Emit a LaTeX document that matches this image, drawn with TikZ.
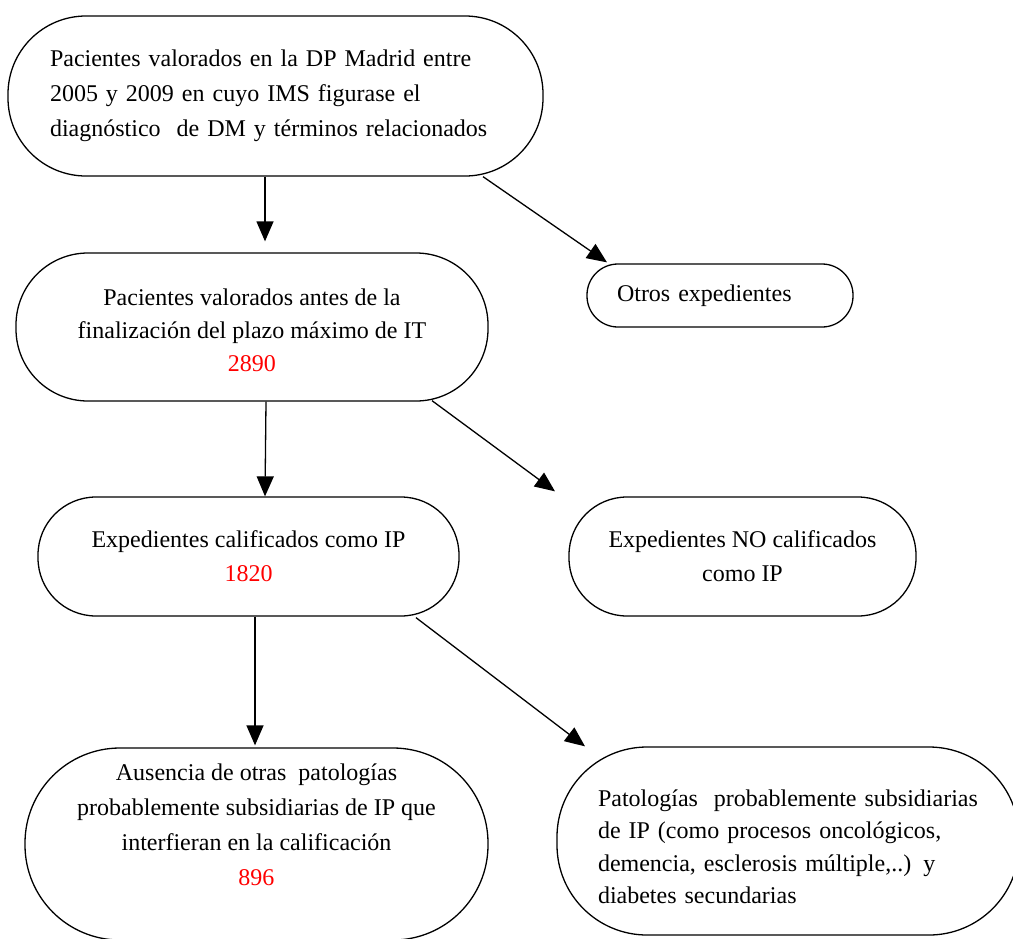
\documentclass[tikz,border=0pt]{standalone}
\usepackage{fontspec}
\setmainfont{Liberation Serif}
\usetikzlibrary{arrows.meta,calc}
\begin{document}
\begin{tikzpicture}[x=1pt,y=-1pt,
  box/.style={draw,line width=1.3pt,inner sep=0pt,font=\fontsize{24}{34}\selectfont},
  arr/.style={line width=1.3pt,-{Triangle[length=20pt,width=17pt]}}]
\useasboundingbox (0,0) rectangle (1013,938);
\clip (0,0) rectangle (1013,938);

\node[box,minimum width=535pt,minimum height=160pt,rounded corners=78pt,
      text width=451pt,align=left,font=\fontsize{24}{35}\selectfont] (n1) at (275.5,96)
  {Pacientes valorados en la DP Madrid entre\\2005 y 2009 en cuyo IMS figurase el\\diagnóstico\ \ de DM y términos relacionados};

\node[box,minimum width=472pt,minimum height=148pt,rounded corners=72pt,align=center,
      font=\fontsize{24}{33}\selectfont] (n2) at (252,327)
  {\rule{0pt}{24pt}Pacientes valorados antes de la\\finalización del plazo máximo de IT\\\textcolor{red}{2890}};

\node[box,minimum width=266pt,minimum height=63pt,rounded corners=31pt,
      text width=206pt,align=left] (otros) at (720,295.5)
  {Otros expedientes};

\node[box,minimum width=421pt,minimum height=119pt,rounded corners=58pt,align=center] (n3) at (248.5,556.5)
  {Expedientes calificados como IP\\\textcolor{red}{1820}};

\node[box,minimum width=347pt,minimum height=119pt,rounded corners=58pt,align=center] (no) at (742.5,556.5)
  {Expedientes NO calificados\\como IP};

\node[box,minimum width=463pt,minimum height=192pt,rounded corners=95pt,align=center,
      font=\fontsize{24}{35}\selectfont] (n4) at (256.5,844)
  {Ausencia de otras\ \ patologías\\probablemente subsidiarias de IP que\\interfieran en la calificación\\\textcolor{red}{896}\rule[-38pt]{0pt}{38pt}};

\node[box,minimum width=462pt,minimum height=188pt,rounded corners=90pt,
      text width=380pt,align=left,font=\fontsize{24}{32.5}\selectfont] (n5) at (788,841)
  {\rule{0pt}{28pt}Patologías\ \ probablemente subsidiarias\\de IP (como procesos oncológicos,\\demencia, esclerosis múltiple,..) y\\diabetes secundarias};

\draw[arr,shorten >=11pt] ([xshift=-10.5pt]n1.south) -- ([xshift=13pt]n2.north);
\draw[arr] ([xshift=207.5pt]n1.south) -- ([xshift=-113pt,yshift=1pt]otros.north);
\draw[arr] ([xshift=14pt]n2.south) -- ([xshift=16.5pt]n3.north);
\draw[arr] ([xshift=180pt,yshift=1pt]n2.south) -- ([xshift=-187.5pt,yshift=5pt]no.north);
\draw[arr,shorten >=2pt] ([xshift=6.5pt]n3.south) -- ([xshift=-1.5pt]n4.north);
\draw[arr] ([xshift=167.5pt,yshift=-1pt]n3.south) -- ([xshift=-203pt]n5.north);
\end{tikzpicture}
\end{document}
